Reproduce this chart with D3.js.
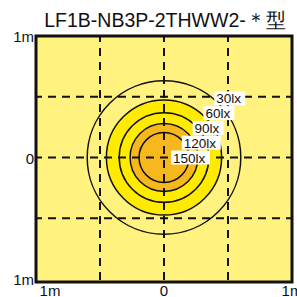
<!DOCTYPE html>
<html>
<head>
<meta charset="utf-8">
<script src="https://cdn.jsdelivr.net/npm/d3@7"></script>
<style>
	body { margin: 0; background: #fff; }
	svg { display: block; font-family: "Liberation Sans", Arial, sans-serif; }
</style>
</head>
<body>
<div id="chart"></div>
<script>
	var title = "LF1B-NB3P-2THWW2-＊型";
	var levels = [30, 60, 90, 120, 150];           // lx
	var radii = [0.60, 0.45, 0.35, 0.265, 0.195];  // m, contour radius per level
	var gridTicks = [-0.5, 0, 0.5];
	var yTickLabels = [{v: 1, t: "1m"}, {v: 0, t: "0"}, {v: -1, t: "1m"}];
	var xTickLabels = [{v: -1, t: "1m"}, {v: 0, t: "0"}, {v: 1, t: "1m"}];

	var W = 297, H = 297;
	var box = {left: 36, right: 292, top: 36, bottom: 282};

	var x = d3.scaleLinear().domain([-1, 1]).range([box.left, box.right]);
	var y = d3.scaleLinear().domain([-1, 1]).range([279, box.top]);

	var svg = d3.select("#chart").append("svg")
		.attr("width", W)
		.attr("height", H);

	svg.append("text")
		.attr("x", 165)
		.attr("y", 27)
		.attr("text-anchor", "middle")
		.attr("font-size", 19.5)
		.attr("fill", "#111")
		.text(title);

	svg.append("defs").append("clipPath").attr("id", "clip")
		.append("rect")
		.attr("x", box.left).attr("y", box.top)
		.attr("width", box.right - box.left).attr("height", box.bottom - box.top);

	var plot = svg.append("g").attr("clip-path", "url(#clip)");

	plot.append("rect")
		.attr("x", box.left).attr("y", box.top)
		.attr("width", box.right - box.left).attr("height", box.bottom - box.top)
		.attr("fill", "#fff27f");

	var rpx = function(r) { return x(r) - x(0); };

	// fill bands: yellow inside 60lx, orange inside 120lx
	plot.append("circle")
		.attr("cx", x(0)).attr("cy", y(0))
		.attr("r", rpx(radii[1]))
		.attr("fill", "#ffeb00");
	plot.append("circle")
		.attr("cx", x(0)).attr("cy", y(0))
		.attr("r", rpx(radii[3]))
		.attr("fill", "#f7b81d");

	plot.selectAll("circle.contour")
		.data(radii)
		.enter()
		.append("circle")
		.attr("class", "contour")
		.attr("cx", x(0)).attr("cy", y(0))
		.attr("r", function(d) { return rpx(d); })
		.attr("fill", "none")
		.attr("stroke", "#111")
		.attr("stroke-width", 1.5);

	plot.selectAll("line.vgrid")
		.data(gridTicks)
		.enter()
		.append("line")
		.attr("x1", function(d) { return x(d); })
		.attr("x2", function(d) { return x(d); })
		.attr("y1", box.top).attr("y2", box.bottom)
		.attr("stroke", "#111")
		.attr("stroke-width", 2)
		.attr("stroke-dasharray", "8,6")
		.attr("stroke-dashoffset", 2);

	plot.selectAll("line.hgrid")
		.data(gridTicks)
		.enter()
		.append("line")
		.attr("y1", function(d) { return y(d); })
		.attr("y2", function(d) { return y(d); })
		.attr("x1", box.left).attr("x2", box.right)
		.attr("stroke", "#111")
		.attr("stroke-width", 2)
		.attr("stroke-dasharray", "8,6")
		.attr("stroke-dashoffset", 2);

	// labels, stacked up-right from the centre
	var labels = svg.selectAll("g.lbl")
		.data(levels)
		.enter()
		.append("g")
		.attr("class", "lbl")
		.attr("transform", function(d, i) {
			var k = levels.length - 1 - i;
			return "translate(" + (x(0) + 8 + k * 10.8) + "," + (y(0) - k * 14.8) + ")";
		});

	labels.append("rect")
		.attr("x", -1).attr("y", -7)
		.attr("height", 14)
		.attr("width", function(d) { return d >= 100 ? 39 : 31; })
		.attr("fill", "#fff");

	labels.append("text")
		.attr("x", 1)
		.attr("y", 5)
		.attr("font-size", 13.5)
		.attr("fill", "#111")
		.text(function(d) { return d + "lx"; });

	svg.append("rect")
		.attr("x", box.left).attr("y", box.top)
		.attr("width", box.right - box.left).attr("height", box.bottom - box.top)
		.attr("fill", "none")
		.attr("stroke", "#111")
		.attr("stroke-width", 3);

	svg.selectAll("text.ylab")
		.data(yTickLabels)
		.enter()
		.append("text")
		.attr("x", box.left - 2)
		.attr("y", function(d) { return y(d.v) + 6; })
		.attr("text-anchor", "end")
		.attr("font-size", 15)
		.attr("fill", "#111")
		.text(function(d) { return d.t; });

	svg.selectAll("text.xlab")
		.data(xTickLabels)
		.enter()
		.append("text")
		.attr("x", function(d) { return d.v === 0 ? x(0) : x(d.v) + (d.v < 0 ? 14 : 0); })
		.attr("y", 296)
		.attr("text-anchor", "middle")
		.attr("font-size", 15)
		.attr("fill", "#111")
		.text(function(d) { return d.t; });
</script>
</body>
</html>
